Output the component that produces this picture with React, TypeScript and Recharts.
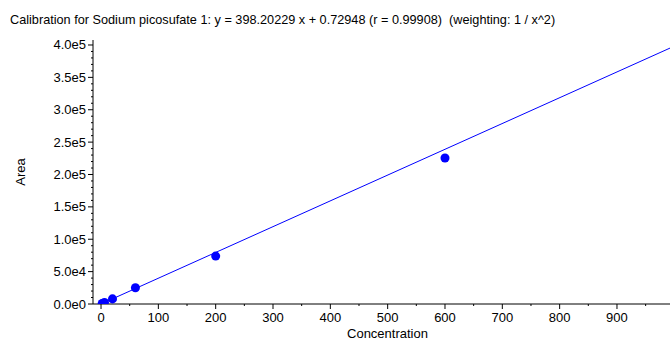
import React from "react"
import { ScatterChart, Scatter, XAxis, YAxis, ZAxis, Label } from "recharts"

const title = "Calibration for Sodium picosufate 1: y = 398.20229 x + 0.72948 (r = 0.99908)  (weighting: 1 / x^2)"

// calibration standards
const concentrations = [2, 6, 20, 60, 200, 600]
const areas = [800, 2400, 7900, 25000, 74000, 225500]

const slope = 398.20229
const intercept = 0.72948

const xMajorTicks = [0, 100, 200, 300, 400, 500, 600, 700, 800, 900]
const yMajorTicks = [0, 50000, 100000, 150000, 200000, 250000, 300000, 350000, 400000]
const yTickLabels = ["0.0e0", "5.0e4", "1.0e5", "1.5e5", "2.0e5", "2.5e5", "3.0e5", "3.5e5", "4.0e5"]

const xDomain: [number, number] = [-14, 992.5]
const yDomain: [number, number] = [0, 407700]

const xTicks = Array.from({ length: 20 }, (_, i) => i * 50)
const yTicks = Array.from({ length: 41 }, (_, i) => i * 10000)

const points = concentrations.map((x, i) => ({ x, y: areas[i] }))
const fit = [0, xDomain[1]].map((x) => ({ x, y: slope * x + intercept }))

const FONT = "'Liberation Sans', Arial, sans-serif"

const YTick = (props: any) => {
  const { x, y, payload } = props
  const idx = yMajorTicks.indexOf(payload.value)
  const ax = x + 7
  return (
    <g>
      <line x1={ax} x2={ax - (idx >= 0 ? 5 : 2)} y1={y} y2={y} stroke="#000" />
      {idx >= 0 && (
        <text x={x} y={y} dy={4.5} textAnchor="end" fontSize={13} fill="#000" fontFamily={FONT}>
          {yTickLabels[idx]}
        </text>
      )}
    </g>
  )
}

const XTick = (props: any) => {
  const { x, y, payload } = props
  const major = xMajorTicks.includes(payload.value)
  const ay = y - 9
  return (
    <g>
      <line x1={x} x2={x} y1={ay} y2={ay + (major ? 5 : 2)} stroke="#000" />
      {major && (
        <text x={x} y={y} dy={9} textAnchor="middle" fontSize={13} fill="#000" fontFamily={FONT}>
          {payload.value}
        </text>
      )}
    </g>
  )
}

export default function App() {
  return (
    <div style={{ position: "absolute", left: 0, top: 0, width: 670, height: 341, background: "#fff", fontFamily: FONT }}>
      <div style={{ position: "absolute", left: 10, top: 13, fontSize: 12.7, color: "#000", whiteSpace: "pre" }}>{title}</div>
      <ScatterChart width={670} height={341} margin={{ top: 40, right: 0, bottom: 0, left: 0 }}>
        <XAxis
          type="number"
          dataKey="x"
          domain={xDomain}
          ticks={xTicks}
          interval={0}
          allowDataOverflow
          height={37}
          tickSize={5}
          tickMargin={4}
          tickLine={false}
          tick={<XTick />}
          axisLine={{ stroke: "#000" }}
        >
          <Label value="Concentration" position="insideBottom" offset={3} dx={6} fill="#000" fontSize={13} fontFamily={FONT} />
        </XAxis>
        <YAxis
          type="number"
          dataKey="y"
          domain={yDomain}
          ticks={yTicks}
          interval={0}
          allowDataOverflow
          width={93}
          tickSize={5}
          tickMargin={2}
          tickLine={false}
          tick={<YTick />}
          axisLine={{ stroke: "#000" }}
        >
          <Label value="Area" angle={-90} position="insideLeft" offset={18} textAnchor="middle" dx={2} fill="#000" fontSize={13} fontFamily={FONT} />
        </YAxis>
        <ZAxis range={[85, 85]} />
        <Scatter data={fit} line={{ stroke: "#0000ff", strokeWidth: 1 }} shape={() => <g />} isAnimationActive={false} />
        <Scatter data={points} fill="#0000ff" shape="circle" isAnimationActive={false} />
      </ScatterChart>
    </div>
  )
}
